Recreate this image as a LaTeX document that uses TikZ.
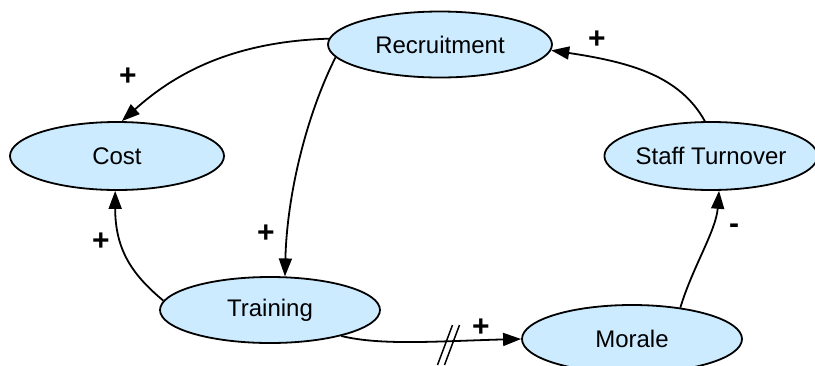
\documentclass[tikz,border=0pt]{standalone}
\usepackage{fontspec}
\setmainfont{Liberation Sans}
\usetikzlibrary{arrows.meta,shapes.geometric}
\definecolor{nodefill}{RGB}{204,235,255}
\begin{document}
\begin{tikzpicture}[x=1pt,y=-1pt,
  var/.style={ellipse,draw=black,line width=1.8pt,fill=nodefill,inner sep=0pt,
    font=\fontsize{24}{28}\selectfont},
  link/.style={line width=1.8pt,-{Triangle[length=18pt,width=13pt]}},
  pol/.style={font=\bfseries\fontsize{30}{32}\selectfont,inner sep=0pt},
  delaymark/.style={line width=1.5pt}]
\useasboundingbox (0,0) rectangle (815,365);
\node[var,minimum width=224pt,minimum height=66pt] (rec) at (440,44.5) {Recruitment};
\node[var,minimum width=214pt,minimum height=68pt] (cost) at (117,156) {Cost};
\node[var,minimum width=208pt,minimum height=68pt] (staff) at (711,156) {Staff Turnover};
\node[var,minimum width=220pt,minimum height=66pt] (train) at (270,310) {Training};
\node[var,minimum width=220pt,minimum height=68pt] (morale) at (632,339) {Morale};

\draw[link] (rec.177) .. controls +(-100,3) and +(50,-45) .. (cost.82);
\draw[link] (rec.187) .. controls +(-30,60) and +(2,-80) .. (train.66);
\draw[link] (train.175) .. controls +(-30,-25) and +(0,60) .. (cost.267);
\draw[link] (train.340) .. controls +(40,10) and +(-80,2) .. (morale.180);
\draw[link] (morale.33) .. controls +(12,-40) and +(-3,40) .. (staff.283);
\draw[link] (staff.100) .. controls +(-25,-45) and +(80,12) .. (rec.357);

\coordinate (dm) at (448,345);
\draw[delaymark] (dm) ++(4.5,-20) -- ++(-15,40);
\draw[delaymark] (dm) ++(11.5,-20) -- ++(-15,40);

\node[pol] (p1) at (128,77) {+};
\node[pol] (p2) at (266,234) {+};
\node[pol] (p3) at (101,242) {+};
\node[pol] (p4) at (481,328) {+};
\node[pol] (p5) at (734,229) {-};
\node[pol] (p6) at (597,40) {+};
\end{tikzpicture}
\end{document}
